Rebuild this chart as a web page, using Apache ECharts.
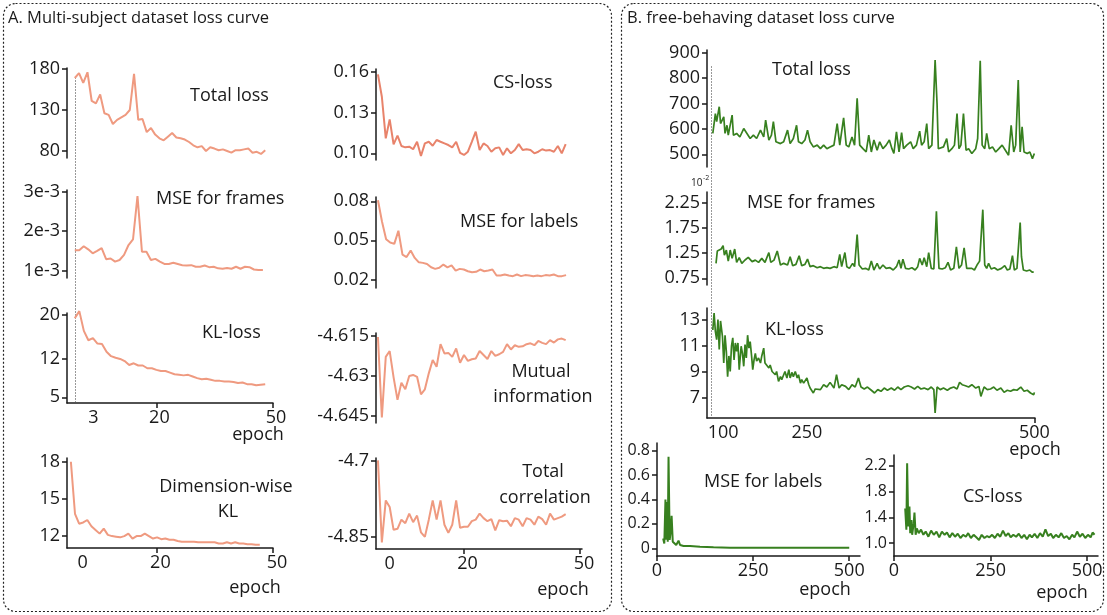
<!DOCTYPE html>
<html>
<head>
<meta charset="utf-8">
<script src="https://cdn.jsdelivr.net/npm/echarts@6/dist/echarts.min.js"></script>
<style>
html, body { margin: 0; padding: 0; background: #fff; }
#chart { width: 1107px; height: 615px; }
</style>
</head>
<body>
<div id="chart"></div>
<script>
// ---- Panel A: multi-subject dataset (values per epoch, evenly spaced) ----
const aTotalLoss = [169,175,163,176,141,138,149,126,124,113,118,121,124,130,174,118,119,103,108,100,95.5,93,97.5,102,96.5,95.5,94,91,87,84.5,86,80,84.5,83,81,82,80,78,81,81,82,83,78,79,76.5,81];
// MSE for frames, in units of 1e-3
const aMseFrames = [1.52,1.52,1.62,1.54,1.44,1.50,1.57,1.29,1.31,1.23,1.27,1.40,1.65,1.79,2.89,1.48,1.48,1.27,1.30,1.23,1.17,1.17,1.20,1.17,1.14,1.13,1.14,1.10,1.10,1.13,1.09,1.10,1.06,1.05,1.07,1.05,1.10,1.05,1.10,1.09,1.03,1.02,1.02];
const aKlLoss = [19.4,20.7,17.1,15.4,15.8,14.8,14.7,13.3,12.5,12.2,12.0,11.6,10.9,11.2,10.8,10.8,10.3,10.3,10.0,9.8,9.8,9.5,9.2,9.1,9.0,9.1,8.8,8.5,8.3,8.4,8.2,8.0,8.0,7.9,7.9,7.8,7.6,7.7,7.4,7.4,7.2,7.3,7.4];
const aDimKl = [18.0,13.8,13.0,13.1,13.3,12.8,12.5,12.2,12.6,12.1,12.0,11.95,11.9,12.0,12.2,11.8,12.0,12.0,12.2,12.0,11.8,11.9,11.75,11.8,11.7,11.7,11.6,11.55,11.55,11.55,11.55,11.5,11.5,11.5,11.5,11.5,11.4,11.4,11.5,11.4,11.5,11.4,11.4,11.35,11.35,11.3,11.3];
const aCsLoss = [0.158,0.1416,0.111,0.125,0.1066,0.113,0.1054,0.1044,0.1049,0.103,0.1085,0.098,0.1073,0.1085,0.1056,0.1098,0.1085,0.1073,0.1061,0.1044,0.1085,0.1004,0.0988,0.1012,0.1085,0.1159,0.1024,0.1073,0.1054,0.1012,0.1037,0.1044,0.0988,0.1037,0.1,0.1024,0.1068,0.1024,0.103,0.1024,0.1,0.1012,0.103,0.102,0.1024,0.1012,0.1054,0.1,0.1068];
const aMseLabels = [0.0808,0.0643,0.0509,0.0483,0.0473,0.0574,0.039,0.0372,0.0422,0.0365,0.0331,0.0327,0.0319,0.0293,0.0281,0.0289,0.0314,0.0293,0.0308,0.0268,0.0281,0.0276,0.0263,0.0255,0.0258,0.0276,0.0263,0.0268,0.0276,0.023,0.023,0.0238,0.023,0.0225,0.0238,0.0225,0.0233,0.023,0.0225,0.023,0.0225,0.0233,0.023,0.0238,0.0225,0.0225,0.0233];
const aMutualInfo = [-4.6153,-4.6456,-4.6228,-4.6206,-4.6305,-4.639,-4.6325,-4.635,-4.63,-4.6296,-4.6303,-4.6369,-4.635,-4.629,-4.624,-4.6265,-4.618,-4.6215,-4.6213,-4.6228,-4.6196,-4.625,-4.6221,-4.6243,-4.6237,-4.6234,-4.6206,-4.6221,-4.6236,-4.6206,-4.6224,-4.6218,-4.6209,-4.618,-4.62,-4.6184,-4.619,-4.6188,-4.618,-4.6177,-4.6184,-4.6168,-4.6175,-4.618,-4.6165,-4.6174,-4.6162,-4.6159,-4.6165];
const aTotalCorr = [-4.7,-4.862,-4.779,-4.792,-4.837,-4.835,-4.817,-4.824,-4.805,-4.822,-4.809,-4.842,-4.851,-4.817,-4.779,-4.817,-4.779,-4.827,-4.843,-4.827,-4.779,-4.833,-4.831,-4.831,-4.82,-4.817,-4.805,-4.814,-4.82,-4.816,-4.838,-4.818,-4.82,-4.819,-4.83,-4.814,-4.817,-4.83,-4.814,-4.817,-4.827,-4.811,-4.816,-4.827,-4.805,-4.817,-4.814,-4.811,-4.806];

// ---- Panel B: free-behaving dataset, [epoch, value] ----
const bTotalLoss = [[1,582],[5,660],[7,628],[11,687],[13,621],[18,647],[20,582],[23,614],[25,575],[31,654],[33,575],[38,582],[43,568],[49,601],[54,582],[59,562],[64,575],[69,562],[75,595],[80,568],[83,634],[88,556],[92,575],[95,628],[99,549],[106,542],[111,549],[117,595],[121,542],[126,562],[131,614],[134,549],[139,542],[144,556],[148,595],[152,549],[157,529],[163,536],[168,522],[173,536],[178,522],[183,529],[189,536],[194,621],[198,536],[204,643],[208,536],[212,529],[217,568],[221,536],[225,720],[229,536],[234,522],[239,509],[243,575],[247,509],[251,556],[256,516],[260,549],[265,522],[270,536],[275,556],[279,522],[282,503],[286,588],[290,509],[294,585],[297,522],[302,536],[308,549],[312,522],[317,536],[322,591],[325,536],[329,549],[333,621],[336,522],[341,536],[346,871],[349,700],[351,522],[354,516],[359,529],[364,562],[367,509],[372,522],[376,536],[380,660],[383,522],[386,536],[390,660],[394,516],[398,522],[403,503],[409,522],[412,562],[416,868],[419,536],[423,522],[426,582],[430,522],[435,529],[440,509],[445,522],[450,536],[455,516],[460,496],[464,614],[468,509],[471,536],[475,792],[478,509],[481,608],[484,509],[489,503],[493,509],[497,483],[500,503]];
// MSE for frames, in units of 1e-2
const bMseFrames = [[6,1.046],[8,1.29],[11,1.26],[14,1.33],[17,1.395],[19,1.21],[22,1.31],[25,1.09],[28,1.31],[31,1.145],[35,1.33],[38,1.066],[42,1.158],[46,1.046],[51,1.112],[56,1.165],[62,1.08],[67,1.11],[72,1.066],[77,1.145],[82,1.066],[88,1.26],[91,1.066],[96,1.11],[101,1.29],[106,1.013],[111,1.046],[117,1.013],[121,1.178],[125,1.0],[130,1.026],[135,1.197],[139,1.0],[144,1.026],[148,1.13],[152,0.98],[157,1.0],[163,0.96],[168,0.98],[173,0.947],[178,0.96],[183,0.947],[189,0.98],[194,0.96],[198,1.224],[201,0.98],[206,1.26],[209,0.98],[213,0.947],[218,1.046],[221,0.98],[225,1.618],[228,1.013],[233,0.934],[238,0.947],[243,0.914],[247,1.092],[251,0.914],[256,1.046],[260,0.934],[265,1.013],[270,0.947],[276,0.96],[281,0.914],[286,0.98],[290,1.112],[293,0.947],[296,1.13],[300,0.947],[305,0.934],[310,0.96],[315,0.914],[319,0.98],[322,1.145],[326,1.013],[329,1.158],[333,0.98],[336,1.26],[340,0.947],[344,0.934],[348,2.08],[350,1.47],[352,0.947],[357,0.934],[362,0.96],[366,1.066],[370,0.914],[375,0.947],[379,1.375],[383,0.947],[387,1.013],[391,1.355],[395,0.947],[398,0.914],[403,0.947],[407,0.914],[411,1.013],[415,1.09],[420,2.11],[423,1.013],[426,0.947],[429,1.046],[433,0.934],[438,0.96],[443,0.914],[449,0.947],[454,1.0],[458,0.914],[462,0.934],[466,1.197],[469,0.914],[473,0.947],[478,1.855],[480,1.178],[483,0.914],[488,0.895],[493,0.914],[497,0.868],[499,0.88]];
const bKlLoss = [[1,12.2],[3,13.5],[5,12.1],[7,11.45],[9,13.0],[11,10.7],[13,12.9],[16,11.7],[18,9.65],[20,11.8],[22,10.55],[24,8.6],[26,10.2],[28,9.0],[30,10.95],[32,11.6],[34,9.9],[36,11.2],[38,10.55],[40,11.2],[42,9.14],[45,10.95],[47,10.4],[49,9.4],[51,11.07],[53,10.04],[55,11.8],[57,10.8],[59,11.3],[61,10.3],[63,9.14],[65,9.9],[67,10.4],[69,9.8],[72,10.04],[75,9.65],[77,10.2],[80,10.8],[82,9.65],[85,9.8],[88,9.27],[90,9.5],[93,9.0],[95,9.14],[98,8.75],[100,9.0],[103,8.24],[106,8.6],[108,8.37],[111,8.75],[113,9.0],[116,8.5],[119,9.14],[121,8.5],[124,8.93],[126,8.6],[129,9.0],[132,8.5],[134,8.75],[137,8.1],[139,8.37],[142,8.1],[144,8.24],[147,8.5],[150,7.98],[152,7.72],[155,7.6],[157,7.34],[160,7.65],[163,7.8],[168,7.6],[173,7.98],[178,7.8],[183,8.16],[189,7.72],[193,8.75],[197,7.72],[201,7.98],[207,7.85],[212,7.6],[217,7.98],[222,7.8],[227,8.5],[231,7.8],[236,7.65],[241,7.8],[247,7.55],[252,7.34],[257,7.6],[262,7.47],[267,7.72],[272,7.55],[278,7.72],[283,7.55],[288,7.8],[293,7.6],[298,7.8],[304,7.9],[309,7.8],[314,7.65],[319,7.85],[324,7.65],[329,7.72],[335,7.6],[340,7.8],[344,7.6],[346,5.8],[349,7.8],[354,7.6],[359,7.72],[365,7.55],[370,7.72],[375,7.8],[380,7.65],[384,8.16],[388,7.98],[393,7.9],[398,7.8],[403,7.98],[409,7.72],[414,7.85],[417,7.08],[422,7.8],[427,7.6],[432,7.65],[437,7.8],[442,7.55],[448,7.72],[453,7.39],[458,7.55],[463,7.47],[468,7.6],[473,7.55],[479,7.8],[484,7.47],[489,7.55],[494,7.34],[499,7.2],[500,7.39]];
const bMseLabels = [[16,0.08],[19,0.04],[22,0.40],[23,0.07],[26,0.38],[28,0.054],[30,0.75],[33,0.07],[36,0.15],[38,0.266],[41,0.054],[44,0.04],[50,0.027],[56,0.063],[60,0.027],[69,0.019],[86,0.019],[112,0.013],[147,0.008],[190,0.005],[250,0.004],[300,0.004],[350,0.004],[400,0.004],[450,0.004],[500,0.004]];
const bCsLoss = [[29,1.54],[32,1.21],[34,2.24],[37,1.26],[40,1.57],[42,1.155],[45,1.36],[47,1.13],[51,1.31],[53,1.475],[56,1.13],[59,1.23],[64,1.155],[70,1.21],[76,1.13],[82,1.18],[89,1.10],[96,1.195],[103,1.13],[110,1.18],[117,1.09],[124,1.18],[131,1.13],[137,1.165],[144,1.09],[151,1.155],[158,1.10],[165,1.145],[172,1.08],[179,1.13],[186,1.10],[192,1.155],[199,1.08],[206,1.13],[213,1.09],[220,1.05],[227,1.13],[234,1.08],[241,1.11],[247,1.09],[254,1.13],[261,1.08],[268,1.145],[275,1.10],[282,1.195],[289,1.11],[296,1.155],[302,1.09],[309,1.13],[316,1.10],[323,1.145],[330,1.08],[337,1.13],[344,1.06],[351,1.13],[357,1.09],[364,1.145],[371,1.08],[378,1.155],[385,1.10],[392,1.215],[399,1.11],[406,1.145],[412,1.08],[419,1.13],[426,1.09],[433,1.155],[440,1.08],[447,1.11],[454,1.06],[461,1.13],[467,1.09],[474,1.18],[481,1.10],[488,1.145],[495,1.08],[502,1.13],[509,1.09],[514,1.165],[519,1.13]];

// tick labels of the top-right x axis (drawn where the original figure put them)
const bTopTickAt = [17, 147, 500];
const bTopTickText = ['100', '250', '500'];

const FF = '"Open Sans", Lato, sans-serif';
const INK = '#1a1a1a';
const SALMON = '#ef9a80';
const SALMON_DARK = '#e8836b';
const GREEN = '#37801f';
const FS = 18;

// spread readings evenly between first and last epoch
function spread(values, first, last) {
    const step = (last - first) / (values.length - 1);
    return values.map((v, i) => [first + i * step, v]);
}

const grids = [], xAxes = [], yAxes = [], series = [];

function addPanel(p) {
    const i = grids.length;
    const axisStyle = { color: INK, width: 1.5 };
    grids.push({ left: p.left, top: p.top, width: p.width, height: p.height });
    xAxes.push({
        gridIndex: i, type: 'value', min: p.xMin, max: p.xMax,
        axisLine: { show: !!p.xLabels, onZero: false, lineStyle: axisStyle },
        axisTick: { show: !!p.xTicks, customValues: p.xTicks || [], length: 5, lineStyle: axisStyle },
        axisLabel: {
            show: !!p.xLabels, customValues: p.xLabels || [], formatter: p.xFmt,
            color: INK, fontFamily: FF, fontSize: p.xSize || FS, margin: 6,
            padding: p.xPad || 0
        },
        splitLine: { show: false }
    });
    yAxes.push({
        gridIndex: i, type: 'value', min: p.yMin, max: p.yMax,
        axisLine: { show: true, onZero: false, lineStyle: axisStyle },
        axisTick: { show: true, customValues: p.yTicks, length: 5, lineStyle: axisStyle },
        axisLabel: {
            customValues: p.yTicks, formatter: p.yFmt,
            color: INK, fontFamily: FF, fontSize: p.ySize || FS, margin: 7
        },
        splitLine: { show: false }
    });
    series.push({
        type: 'line', xAxisIndex: i, yAxisIndex: i, data: p.data,
        showSymbol: false, symbol: 'none', clip: false, silent: true,
        lineStyle: { color: p.color, width: p.lw || 2 }
    });
}

// left column of A
const aL = { left: 67, width: 206, xMin: -3, xMax: 50 };
addPanel(Object.assign({}, aL, { top: 68, height: 90, yMin: 71.5, yMax: 181.2, yTicks: [80, 130, 180],
    data: spread(aTotalLoss, -1, 48), color: SALMON }));
addPanel(Object.assign({}, aL, { top: 190, height: 88, yMin: 0.815, yMax: 3.043, yTicks: [1, 2, 3],
    yFmt: v => Math.round(v) + 'e-3', data: spread(aMseFrames, -1, 47.4), color: SALMON }));
addPanel(Object.assign({}, aL, { top: 313, height: 90, yMin: 3.97, yMax: 20.36, yTicks: [5, 12, 20],
    xLabels: [3, 20, 50], xTicks: [20, 50], xPad: [0, 0, 0, 6],
    data: spread(aKlLoss, -1, 48), color: SALMON }));
addPanel(Object.assign({}, aL, { top: 458, height: 90, yMin: 11.04, yMax: 18.3, yTicks: [12, 15, 18],
    xLabels: [0, 20, 50], xTicks: [20, 50], xPad: [0, 0, 0, 8],
    data: spread(aDimKl, -2, 46.6), color: SALMON }));

// right column of A
const aR = { left: 376, width: 206, xMin: -2.5, xMax: 50.5 };
addPanel(Object.assign({}, aR, { top: 69, height: 91, yMin: 0.0951, yMax: 0.162, yTicks: [0.10, 0.13, 0.16],
    yFmt: v => v.toFixed(2), data: spread(aCsLoss, -2, 46.3), color: SALMON_DARK }));
addPanel(Object.assign({}, aR, { top: 197, height: 91, yMin: 0.0134, yMax: 0.0833, yTicks: [0.02, 0.05, 0.08],
    yFmt: v => v.toFixed(2), data: spread(aMseLabels, -2, 46.4), color: SALMON }));
addPanel(Object.assign({}, aR, { top: 333, height: 90, yMin: -4.6477, yMax: -4.6138, yTicks: [-4.645, -4.63, -4.615],
    yFmt: v => String(+v.toFixed(3)), data: spread(aMutualInfo, -2, 46.3), color: SALMON }));
addPanel(Object.assign({}, aR, { top: 458, height: 91, yMin: -4.8749, yMax: -4.6953, yTicks: [-4.85, -4.7],
    yFmt: v => String(+v.toFixed(2)),
    xLabels: [0, 20, 50], xTicks: [20, 50], xPad: [0, 0, 0, 8],
    data: spread(aTotalCorr, -2, 46.3), color: SALMON }));

// B top three
const bT = { left: 707, width: 328, xMin: -8, xMax: 501, color: GREEN, lw: 1.7 };
addPanel(Object.assign({}, bT, { top: 50, height: 117, yMin: 450, yMax: 910, yTicks: [500, 600, 700, 800, 900],
    data: bTotalLoss }));
addPanel(Object.assign({}, bT, { top: 192, height: 93, yMin: 0.617, yMax: 2.46, yTicks: [0.75, 1.25, 1.75, 2.25],
    yFmt: v => v.toFixed(2), data: bMseFrames }));
addPanel(Object.assign({}, bT, { top: 308, height: 110, yMin: 5.41, yMax: 13.9, yTicks: [7, 9, 11, 13],
    xLabels: bTopTickAt, xTicks: [500],
    xFmt: v => bTopTickText[bTopTickAt.indexOf(v)], data: bKlLoss }));

// B bottom two
addPanel({ left: 657, top: 443, width: 203, height: 113, xMin: 0, xMax: 528, yMin: -0.063, yMax: 0.863,
    yTicks: [0, 0.2, 0.4, 0.6, 0.8], yFmt: v => String(+v.toFixed(1)), ySize: 16, xSize: 18,
    xLabels: [0, 250, 500], xTicks: [0, 250, 500], data: bMseLabels, color: GREEN, lw: 2 });
addPanel({ left: 894, top: 455, width: 204, height: 101, xMin: 0, xMax: 528, yMin: 0.8, yMax: 2.37,
    yTicks: [1.0, 1.4, 1.8, 2.2], yFmt: v => v.toFixed(1), ySize: 16, xSize: 18,
    xLabels: [0, 250, 500], xTicks: [0, 250, 500], data: bCsLoss, color: GREEN, lw: 2 });

function label(x, y, text, size, align) {
    return { type: 'text', x: x, y: y, silent: true,
        style: { text: text, fill: INK, fontFamily: FF, fontSize: size || FS,
                 align: align || 'left', verticalAlign: 'middle' } };
}

const graphics = [
    { type: 'rect', shape: { x: 3.5, y: 3.5, width: 608, height: 608, r: 12 }, silent: true,
      style: { fill: 'none', stroke: '#222', lineWidth: 1.2, lineDash: [2, 2] } },
    { type: 'rect', shape: { x: 621.5, y: 3.5, width: 482, height: 608, r: 12 }, silent: true,
      style: { fill: 'none', stroke: '#222', lineWidth: 1.2, lineDash: [2, 2] } },
    { type: 'line', shape: { x1: 75.5, y1: 77, x2: 75.5, y2: 402 }, silent: true,
      style: { stroke: '#999', lineWidth: 1, lineDash: [2, 1] } },
    { type: 'line', shape: { x1: 711.5, y1: 66, x2: 711.5, y2: 417 }, silent: true,
      style: { stroke: '#999', lineWidth: 1, lineDash: [2, 1] } },
    label(8, 18, 'A. Multi-subject dataset loss curve', 16.5),
    label(627, 18, 'B. free-behaving dataset loss curve', 16.5),
    label(190, 96, 'Total loss'),
    label(156, 199, 'MSE for frames'),
    label(202, 333, 'KL-loss'),
    label(226, 487, 'Dimension-wise', FS, 'center'),
    label(228, 512, 'KL', FS, 'center'),
    label(493, 83, 'CS-loss'),
    label(460, 222, 'MSE for labels'),
    label(541, 372, 'Mutual', FS, 'center'),
    label(543, 397, 'information', FS, 'center'),
    label(543, 472, 'Total', FS, 'center'),
    label(545, 498, 'correlation', FS, 'center'),
    label(258, 435, 'epoch', FS, 'center'),
    label(255, 588, 'epoch', FS, 'center'),
    label(563, 590, 'epoch', FS, 'center'),
    label(772, 70, 'Total loss'),
    label(747, 203, 'MSE for frames'),
    label(765, 330, 'KL-loss'),
    label(704, 482, 'MSE for labels'),
    label(963, 497, 'CS-loss'),
    label(1035, 450, 'epoch', FS, 'center'),
    label(825, 590, 'epoch', FS, 'center'),
    label(1062, 593, 'epoch', FS, 'center'),
    label(691, 183, '10', 10),
    label(703, 178, '-2', 7)
];

const chart = echarts.init(document.getElementById('chart'), null, { renderer: 'canvas' });
chart.setOption({
    animation: false,
    backgroundColor: '#fff',
    grid: grids,
    xAxis: xAxes,
    yAxis: yAxes,
    series: series,
    graphic: graphics
});
window.addEventListener('resize', () => chart.resize());
</script>
</body>
</html>
